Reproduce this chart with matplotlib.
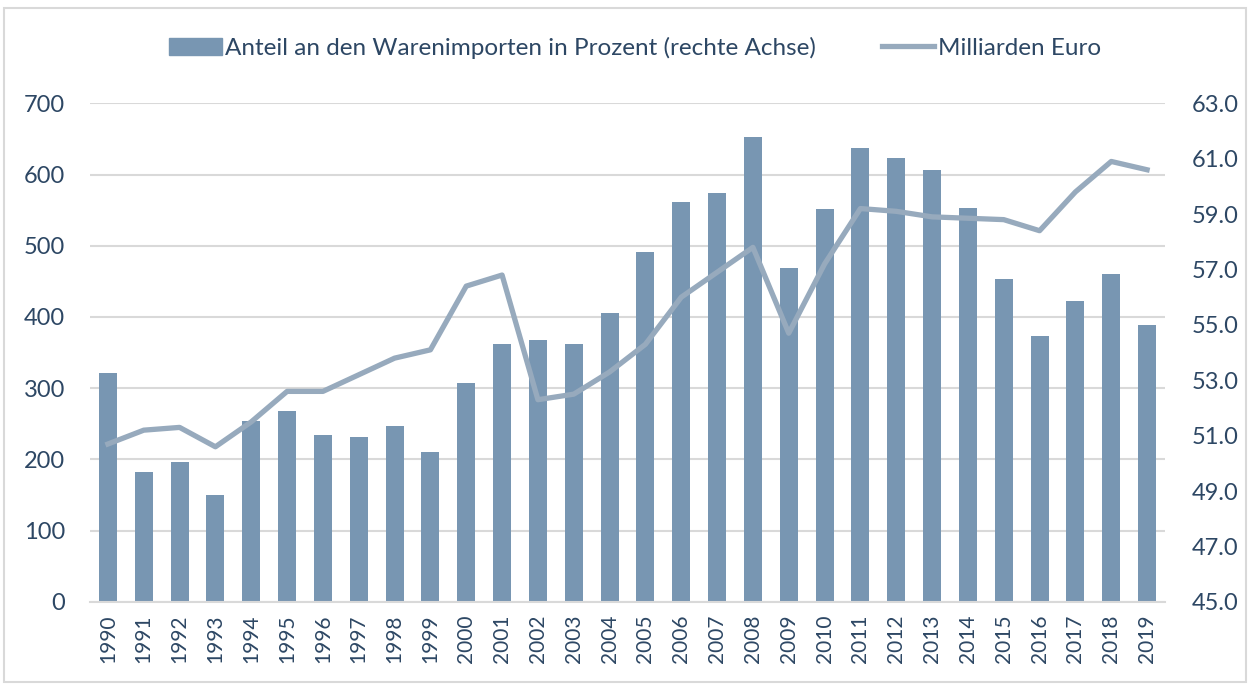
import numpy as np
import matplotlib.pyplot as plt
from matplotlib.patches import Rectangle
from matplotlib.lines import Line2D

plt.rcParams['font.family'] = ['Lato', 'DejaVu Sans']

years = [str(y) for y in range(1990, 2020)]
anteil = [322, 183, 197, 150, 254, 268, 234, 231, 247, 210,
          307, 362, 368, 362, 406, 491, 562, 574, 652, 469,
          551, 637, 623, 607, 553, 453, 374, 423, 461, 389]
mrd_euro = [50.7, 51.2, 51.3, 50.6, 51.5, 52.6, 52.6, 53.2, 53.8, 54.1,
            56.4, 56.8, 52.3, 52.5, 53.3, 54.3, 56.0, 56.9, 57.8, 54.7,
            57.2, 59.2, 59.1, 58.9, 58.85, 58.8, 58.4, 59.8, 60.9, 60.6]

bar_col = '#7896b2'
line_col = '#97aabd'
txt_col = '#2d4764'
grid_col = '#d9d9d9'

fig = plt.figure(figsize=(12.5, 6.84), dpi=100)
ax = fig.add_axes([0.072, 0.12, 0.86, 0.729])
ax2 = ax.twinx()

x = np.arange(len(years))
ax.bar(x, anteil, width=0.5, color=bar_col, zorder=2)
ax.set_ylim(0, 700)
ax.set_yticks(range(0, 701, 100))
ax.set_xlim(-0.5, len(years) - 0.5)
ax.set_xticks(x)
ax.set_xticklabels(years, rotation=90)
ax.yaxis.grid(True, color=grid_col, linewidth=1.5, zorder=0)
ax.set_axisbelow(True)

ax2.plot(x, mrd_euro, color=line_col, linewidth=3.8, zorder=3)
ax2.set_ylim(45, 63)
ax2.set_yticks(np.arange(45, 63.1, 2))
ax2.set_yticklabels(['%.1f' % v for v in np.arange(45, 63.1, 2)])

for a in (ax, ax2):
    for s in a.spines.values():
        s.set_visible(False)
    a.tick_params(length=0, colors=txt_col, labelsize=17)
ax.tick_params(axis='y', pad=18)
ax2.tick_params(axis='y', pad=19)
ax.tick_params(axis='x', labelsize=15, pad=9)
ax.spines['bottom'].set_visible(True)
ax.spines['bottom'].set_color(grid_col)
ax.spines['bottom'].set_linewidth(1.5)

handles = [Rectangle((0, 0), 1, 1, color=bar_col),
           Line2D([0], [0], color=line_col, linewidth=3.8)]
labels = ['Anteil an den Warenimporten in Prozent (rechte Achse)', 'Milliarden Euro']
fig.legend(handles, labels, loc='center', bbox_to_anchor=(0.508, 0.93), ncol=2,
           frameon=False, fontsize=17.5, labelcolor=txt_col, handlelength=2.15,
           handletextpad=0.15, columnspacing=2.7)

fig.add_artist(Rectangle((0.003, 0.003), 0.994, 0.985, transform=fig.transFigure,
                         fill=False, edgecolor='#d9d9d9', linewidth=1.5))

fig.savefig('out.png', dpi=100)
